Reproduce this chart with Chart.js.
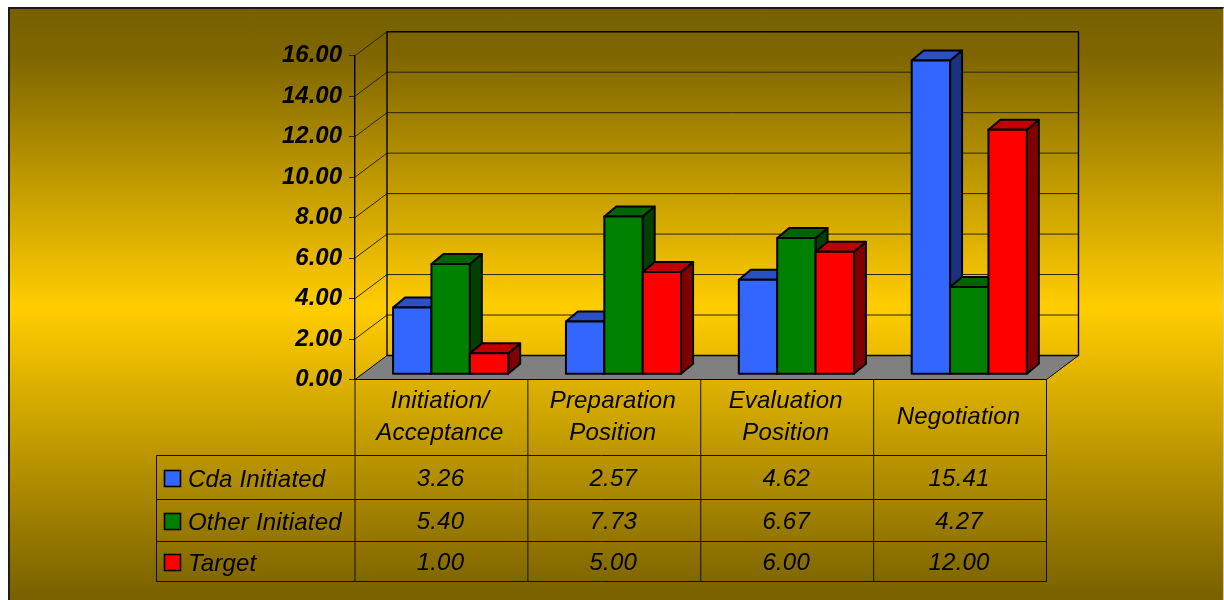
<!DOCTYPE html>
<html>
<head>
<meta charset="utf-8">
<title>Cycle time by phase</title>
<script src="https://cdn.jsdelivr.net/npm/chart.js@4/dist/chart.umd.min.js"></script>
<style>
    html, body { margin: 0; padding: 0; background: #fff; }
    #panel {
        position: absolute; left: 8px; top: 7px; width: 1213px; height: 591px;
        border-left: 2px solid #1c1c14; border-top: 2px solid #1c1c14; border-right: 1px solid #d6c88c;
        background: linear-gradient(to bottom, #776000 0%, #7f6600 8%, #ffcc00 50%, #ffcc00 51%, #7a6200 99%);
    }
    #wrap { position: absolute; left: 0; top: 0; width: 1224px; height: 600px; }
</style>
</head>
<body>
<div id="panel"></div>
<div id="wrap"><canvas id="chart" width="1224" height="600"></canvas></div>
<script>
'use strict';

var categories = [['Initiation/', 'Acceptance'], ['Preparation', 'Position'], ['Evaluation', 'Position'], ['Negotiation']];
var seriesNames = ['Cda Initiated', 'Other Initiated', 'Target'];
var cdaInitiated = [3.26, 2.57, 4.62, 15.41];
var otherInitiated = [5.40, 7.73, 6.67, 4.27];
var target = [1.00, 5.00, 6.00, 12.00];
var seriesValues = [cdaInitiated, otherInitiated, target];

var frontColors = ['#3366ff', '#008000', '#ff0000'];
var topColors = ['#2a50c4', '#006400', '#c00000'];
var sideColors = ['#1a3380', '#004000', '#800000'];

var LABEL_FONT = 'italic 24px "Liberation Sans", Arial, sans-serif';
var AXIS_FONT_FAMILY = '"Liberation Sans", Arial, sans-serif';

// wall depth of the box, and how far the bars sit inside it
var WALL_DX = 32, WALL_DY = 24;
var BAR_SHIFT_X = 9.2, BAR_SHIFT_Y = 5.8;
var BAR_DX = 12, BAR_DY = 10;

// table rows below the plot
var TABLE_LEFT = 156.5;
var HEADER_BOTTOM = 455.5;
var ROW_LINES = [499.5, 541.5, 581.5];

function line(ctx, x1, y1, x2, y2) {
    ctx.beginPath();
    ctx.moveTo(x1, y1);
    ctx.lineTo(x2, y2);
    ctx.stroke();
}

function poly(ctx, points) {
    ctx.beginPath();
    ctx.moveTo(points[0][0], points[0][1]);
    for (var i = 1; i < points.length; i++) {
        ctx.lineTo(points[i][0], points[i][1]);
    }
    ctx.closePath();
    ctx.fill();
    ctx.stroke();
}

function drawBox(chart) {
    var ctx = chart.ctx, area = chart.chartArea, y = chart.scales.y;
    var backLeft = area.left + WALL_DX, backRight = area.right + WALL_DX;
    ctx.save();
    ctx.lineJoin = 'round';

    ctx.strokeStyle = '#2e2500';
    ctx.lineWidth = 1;
    y.ticks.forEach(function (tick) {
        var py = y.getPixelForValue(tick.value);
        if (tick.value > 0 && tick.value < 16) {
            line(ctx, backLeft, py - WALL_DY, backRight, py - WALL_DY);
        }
        if (tick.value > 0) {
            line(ctx, area.left, py, backLeft, py - WALL_DY);
        }
    });

    ctx.fillStyle = '#808080';
    ctx.strokeStyle = '#000';
    poly(ctx, [
        [area.left, area.bottom], [area.right, area.bottom],
        [backRight, area.bottom - WALL_DY], [backLeft, area.bottom - WALL_DY]
    ]);

    ctx.lineWidth = 1.4;
    ctx.strokeRect(backLeft, area.top - WALL_DY, backRight - backLeft, area.bottom - area.top);
    ctx.restore();
}

// one series at a time, left to right, so each one covers the side faces of the last
function drawSeries(chart, idx) {
    var ctx = chart.ctx, meta = chart.getDatasetMeta(idx);
    ctx.save();
    ctx.translate(BAR_SHIFT_X, -BAR_SHIFT_Y);
    ctx.lineWidth = 2;
    ctx.lineJoin = 'round';
    ctx.strokeStyle = '#000';
    meta.data.forEach(function (bar) {
        var r = bar.getProps(['x', 'y', 'base', 'width'], true);
        var left = r.x - r.width / 2, right = r.x + r.width / 2;
        ctx.fillStyle = sideColors[idx];
        poly(ctx, [[right, r.y], [right + BAR_DX, r.y - BAR_DY], [right + BAR_DX, r.base - BAR_DY], [right, r.base]]);
        ctx.fillStyle = topColors[idx];
        poly(ctx, [[left, r.y], [left + BAR_DX, r.y - BAR_DY], [right + BAR_DX, r.y - BAR_DY], [right, r.y]]);
    });
    meta.controller.draw();
    meta.data.forEach(function (bar) {
        var r = bar.getProps(['x', 'y', 'base', 'width'], true);
        ctx.strokeRect(r.x - r.width / 2, r.y, r.width, r.base - r.y);
    });
    ctx.restore();
}

var boxPlugin = {
    id: 'box',
    // the stock dataset pass paints first-to-last backwards, so it is replaced below
    beforeDatasetDraw: function () {
        return false;
    },
    afterDatasetsDraw: function (chart) {
        drawBox(chart);
        seriesNames.forEach(function (name, i) {
            drawSeries(chart, i);
        });
    }
};

// data table under the plot, with the legend keys in its first column
var tablePlugin = {
    id: 'dataTable',
    afterDraw: function (chart) {
        var ctx = chart.ctx, area = chart.chartArea, x = chart.scales.x;
        var cell = (area.right - area.left) / categories.length;
        var rowTops = [HEADER_BOTTOM].concat(ROW_LINES);
        var i, j;
        ctx.save();
        ctx.strokeStyle = '#151000';
        ctx.lineWidth = 1;
        for (i = 1; i <= categories.length; i++) {
            line(ctx, area.left + cell * i, area.bottom, area.left + cell * i, ROW_LINES[2]);
        }
        line(ctx, area.left, area.bottom, area.left, ROW_LINES[2]);
        line(ctx, TABLE_LEFT, HEADER_BOTTOM, TABLE_LEFT, ROW_LINES[2]);
        rowTops.forEach(function (py) {
            line(ctx, TABLE_LEFT, py, area.right, py);
        });

        ctx.fillStyle = '#000';
        ctx.font = LABEL_FONT;
        ctx.letterSpacing = '0.2px';
        ctx.textBaseline = 'middle';
        ctx.textAlign = 'center';
        categories.forEach(function (lines, c) {
            var cx = x.getPixelForTick(c) - 1.5;
            var midY = (area.bottom + HEADER_BOTTOM) / 2 - 0.5;
            lines.forEach(function (text, n) {
                ctx.fillText(text, cx, midY + (n - (lines.length - 1) / 2) * 32);
            });
        });

        for (i = 0; i < seriesValues.length; i++) {
            var rowMid = (rowTops[i] + rowTops[i + 1]) / 2;
            ctx.textAlign = 'center';
            for (j = 0; j < categories.length; j++) {
                ctx.fillText(seriesValues[i][j].toFixed(2), x.getPixelForTick(j) - 1, rowMid + 1.5);
            }
            ctx.textAlign = 'left';
            ctx.fillText(seriesNames[i], 188, rowMid + 2.5);
            ctx.fillStyle = frontColors[i];
            ctx.lineWidth = 1.6;
            ctx.strokeStyle = '#000';
            ctx.fillRect(164.5, rowMid + 1 - 8, 16, 16);
            ctx.strokeRect(164.5, rowMid + 1 - 8, 16, 16);
            ctx.fillStyle = '#000';
        }
        ctx.restore();
    }
};

var datasets = seriesNames.map(function (name, i) {
    return {
        label: name,
        data: seriesValues[i],
        backgroundColor: frontColors[i],
        borderWidth: 0,
        clip: false,
        yAxisID: 'yBars',
        categoryPercentage: 0.666,
        barPercentage: 1
    };
});

new Chart(document.getElementById('chart').getContext('2d'), {
    type: 'bar',
    data: { labels: categories, datasets: datasets },
    plugins: [boxPlugin, tablePlugin],
    options: {
        responsive: false,
        animation: false,
        layout: { padding: { top: 55.7, bottom: 220.5, right: 177.5, left: 0 } },
        plugins: { legend: { display: false }, tooltip: { enabled: false }, title: { display: false } },
        scales: {
            x: { display: false },
            // the bars stand forward of the axis plane, where a unit reads a little taller
            yBars: { display: false, min: 0, max: 15.93 },
            y: {
                min: 0,
                max: 16,
                afterFit: function (scale) { scale.width = 355; },
                ticks: {
                    stepSize: 2,
                    padding: 7,
                    color: '#000',
                    font: { family: AXIS_FONT_FAMILY, size: 24, style: 'italic', weight: 'bold' },
                    callback: function (value) { return value.toFixed(2); }
                },
                border: { display: true, color: '#000', width: 1.4 },
                grid: { drawOnChartArea: false, drawTicks: true, tickLength: 6, color: '#2e2500' }
            }
        }
    }
});
</script>
</body>
</html>
